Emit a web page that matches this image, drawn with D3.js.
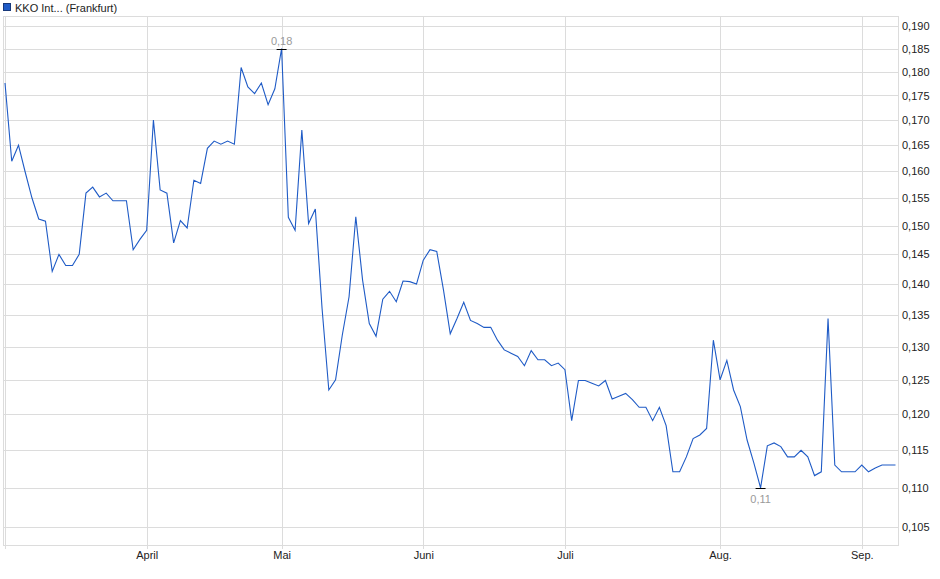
<!DOCTYPE html>
<html>
<head>
<meta charset="utf-8">
<script src="https://cdn.jsdelivr.net/npm/d3@7"></script>
<style>
  body { margin: 0; background: #fff; }
  svg { display: block; font-family: "Liberation Sans", Arial, sans-serif; }
</style>
</head>
<body>
<div id="chart"></div>
<script>
// KKO Int... (Frankfurt) - daily closing prices, log scale

const seriesName = 'KKO Int... (Frankfurt)';

// one value per trading day
const prices = [
  0.1776, 0.1619, 0.1650, 0.1598, 0.1550, 0.1512, 0.1508, 0.1421, 0.1450, 0.1431,
  0.1431, 0.1450, 0.1559, 0.1570, 0.1552, 0.1559, 0.1545, 0.1545, 0.1545, 0.1458,
  0.1476, 0.1492, 0.1700, 0.1565, 0.1559, 0.1470, 0.1509, 0.1496, 0.1583, 0.1577,
  0.1644, 0.1658, 0.1652, 0.1658, 0.1652, 0.1809, 0.1768, 0.1754, 0.1776, 0.1731,
  0.1764, 0.1850, 0.1515, 0.1492, 0.1680, 0.1504, 0.1530, 0.1360, 0.1235, 0.1250,
  0.1318, 0.1379, 0.1516, 0.1407, 0.1336, 0.1316, 0.1375, 0.1388, 0.1371, 0.1405,
  0.1404, 0.1400, 0.1440, 0.1458, 0.1455, 0.1390, 0.1320, 0.1344, 0.1370, 0.1341,
  0.1336, 0.1330, 0.1330, 0.1310, 0.1295, 0.1290, 0.1285, 0.1271, 0.1294, 0.1280,
  0.1280, 0.1271, 0.1275, 0.1265, 0.1191, 0.1249, 0.1249, 0.1245, 0.1241, 0.1249,
  0.1222, 0.1226, 0.1230, 0.1221, 0.1210, 0.1210, 0.1191, 0.1210, 0.1184, 0.1121,
  0.1121, 0.1141, 0.1166, 0.1171, 0.1180, 0.1310, 0.1250, 0.1279, 0.1235, 0.1211,
  0.1164, 0.1133, 0.1100, 0.1156, 0.1160, 0.1155, 0.1141, 0.1141, 0.1150, 0.1141,
  0.1116, 0.1121, 0.1344, 0.1130, 0.1121, 0.1121, 0.1121, 0.1130, 0.1121, 0.1126,
  0.1130, 0.1130, 0.1130
];

// month labels and the trading-day index where each month starts
const monthLabels = ['April', 'Mai', 'Juni', 'Juli', 'Aug.', 'Sep.'];
const monthIndex = [21, 41, 62, 83, 106, 127];

// y tick values
const yTicks = [0.105, 0.110, 0.115, 0.120, 0.125, 0.130, 0.135, 0.140, 0.145,
  0.150, 0.155, 0.160, 0.165, 0.170, 0.175, 0.180, 0.185, 0.190];

const W = 940, H = 579;
const plot = { left: 3, right: 898, top: 16, bottom: 545 };

// German number format
const de = d3.formatLocale({ decimal: ',', thousands: '.', grouping: [3], currency: ['', ' €'] });
const fmtTick = de.format('.3f');
const fmtMark = de.format('.2f');

const svg = d3.select('#chart')
  .append('svg')
  .attr('width', W)
  .attr('height', H);

const x = d3.scaleLinear()
  .domain([0, prices.length - 1])
  .range([5, 895.5]);

const y = d3.scaleLog()
  .domain([0.1028, 0.19226])
  .range([plot.bottom, plot.top]);

const gridColor = '#dcdcdc';

// horizontal grid + right labels
const yAxis = svg.append('g')
  .attr('transform', `translate(${plot.right},0)`)
  .call(d3.axisRight(y)
    .tickValues(yTicks)
    .tickFormat(fmtTick)
    .tickSize(-(plot.right - plot.left))
    .tickPadding(4));
yAxis.select('.domain').remove();
yAxis.selectAll('line').attr('stroke', gridColor).attr('shape-rendering', 'crispEdges');
yAxis.selectAll('text')
  .attr('fill', '#222')
  .style('font-size', '11px');

// vertical grid at month starts + bottom labels
const xAxis = svg.append('g')
  .attr('transform', `translate(0,${plot.bottom})`)
  .call(d3.axisBottom(x)
    .tickValues(monthIndex)
    .tickFormat((d, i) => monthLabels[i])
    .tickSizeInner(-(plot.bottom - plot.top))
    .tickSizeOuter(0)
    .tickPadding(6));
xAxis.select('.domain').remove();
xAxis.selectAll('line').attr('stroke', gridColor).attr('shape-rendering', 'crispEdges');
xAxis.selectAll('text')
  .attr('fill', '#222')
  .style('font-size', '11px');

// small ticks below the bottom edge
svg.append('g')
  .selectAll('line')
  .data([0].concat(monthIndex))
  .join('line')
  .attr('x1', d => Math.round(x(d)) + 0.5)
  .attr('x2', d => Math.round(x(d)) + 0.5)
  .attr('y1', plot.bottom)
  .attr('y2', plot.bottom + 4)
  .attr('stroke', gridColor);

// gridline at first day
svg.append('line')
  .attr('x1', Math.round(x(0)) + 0.5)
  .attr('x2', Math.round(x(0)) + 0.5)
  .attr('y1', plot.top)
  .attr('y2', plot.bottom)
  .attr('stroke', gridColor);

// plot frame
svg.append('rect')
  .attr('x', plot.left + 0.5)
  .attr('y', plot.top + 0.5)
  .attr('width', plot.right - plot.left)
  .attr('height', plot.bottom - plot.top)
  .attr('fill', 'none')
  .attr('stroke', gridColor);

// price line
const line = d3.line()
  .x((d, i) => x(i))
  .y(d => y(d));

svg.append('path')
  .datum(prices)
  .attr('d', line)
  .attr('fill', 'none')
  .attr('stroke', '#1f5bc6')
  .attr('stroke-width', 1.1)
  .attr('stroke-linejoin', 'miter');

// high / low markers
const hi = d3.maxIndex(prices);
const lo = d3.minIndex(prices);

[[hi, -1], [lo, 1]].forEach(([i, dir]) => {
  const px = x(i), py = Math.round(y(prices[i])) + 0.5;
  svg.append('line')
    .attr('x1', px - 5).attr('x2', px + 5)
    .attr('y1', py).attr('y2', py)
    .attr('stroke', '#000')
    .attr('stroke-width', 1);
  svg.append('text')
    .attr('x', px)
    .attr('y', dir < 0 ? py - 5 : py + 14)
    .attr('text-anchor', 'middle')
    .attr('fill', '#9a9a9a')
    .style('font-size', '11px')
    .text(fmtMark(prices[i]));
});

// legend
const legend = svg.append('g').attr('transform', 'translate(3,2)');
legend.append('rect')
  .attr('x', 0.5).attr('y', 1.5)
  .attr('width', 7).attr('height', 7)
  .attr('fill', '#1f5bc6')
  .attr('stroke', '#17387a');
legend.append('text')
  .attr('x', 12)
  .attr('y', 9.5)
  .attr('fill', '#222')
  .style('font-size', '11px')
  .text(seriesName);
</script>
</body>
</html>
